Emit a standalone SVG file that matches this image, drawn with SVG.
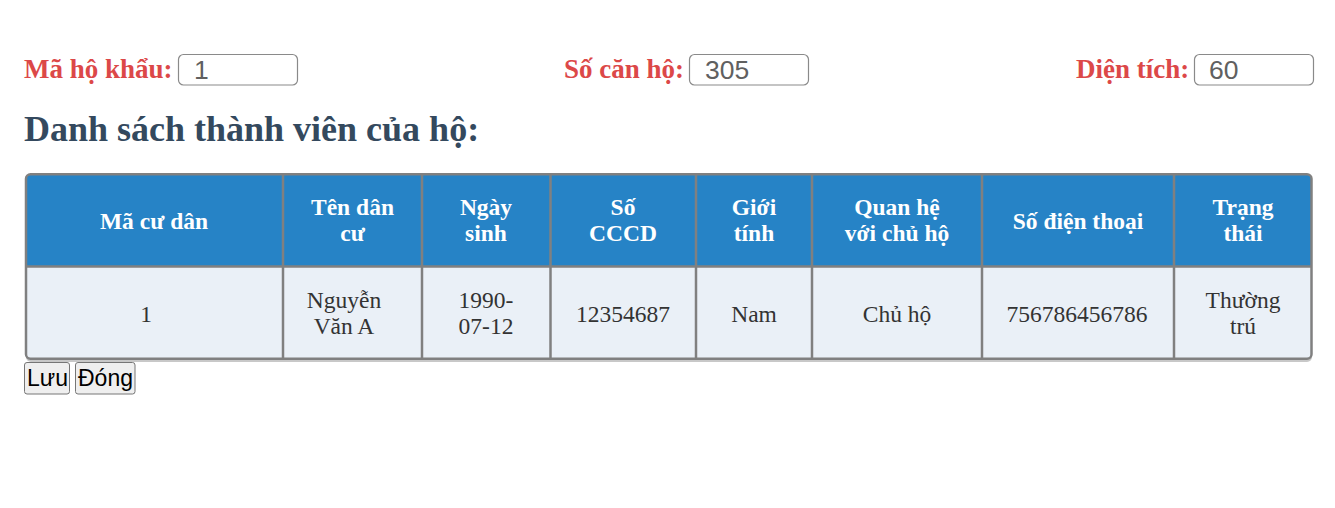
<svg xmlns="http://www.w3.org/2000/svg" width="1335" height="508" viewBox="0 0 1335 508">
<style>
.lbl{font-family:"Liberation Serif","Times New Roman",serif;font-weight:bold;font-size:27px;fill:#dc4848}
.inp{fill:#ffffff;stroke:#8a8a8a;stroke-width:1.2}
.val{font-family:"Liberation Sans",Arial,sans-serif;font-size:26.5px;fill:#606060}
.h2{font-family:"Liberation Serif","Times New Roman",serif;font-weight:bold;font-size:36px;fill:#34495e}
.th{font-family:"Liberation Serif","Times New Roman",serif;font-weight:bold;font-size:23.5px;fill:#ffffff;text-anchor:middle}
.td{font-family:"Liberation Serif","Times New Roman",serif;font-size:23.5px;fill:#333333;text-anchor:middle}
.grid{stroke:#808080;stroke-width:2.5;fill:none}
.btn{fill:#efefef;stroke:#767676;stroke-width:1}
.bt{font-family:"Liberation Sans",Arial,sans-serif;font-size:23px;fill:#000000}
</style>
<g id="form">
  <text class="lbl" x="24" y="78">Mã hộ khẩu:</text>
  <rect class="inp" x="178.5" y="54.5" width="119" height="30.5" rx="5"/>
  <text class="val" x="194" y="79">1</text>
  <text class="lbl" x="564" y="78">Số căn hộ:</text>
  <rect class="inp" x="689.5" y="54.5" width="119" height="30.5" rx="5"/>
  <text class="val" x="705" y="79">305</text>
  <text class="lbl" x="1076" y="78">Diện tích:</text>
  <rect class="inp" x="1194.5" y="54.5" width="119" height="30.5" rx="5"/>
  <text class="val" x="1209" y="79">60</text>
</g>
<g id="heading">
  <text class="h2" x="24" y="141">Danh sách thành viên của hộ:</text>
</g>
<g id="table">
  <rect x="26" y="176" width="1286" height="186" rx="5" fill="#c8c8c8"/>
  <path d="M30.5,174 H1307 A4.5,4.5 0 0 1 1311.5,178.5 V266.5 H26 V178.5 A4.5,4.5 0 0 1 30.5,174 Z" fill="#2683c6"/>
  <path d="M26,266.5 H1311.5 V354 A4.5,4.5 0 0 1 1307,358.5 H30.5 A4.5,4.5 0 0 1 26,354 Z" fill="#eaf0f7"/>
  <rect class="grid" x="26" y="174.2" width="1285.5" height="184.5" rx="4.5"/>
  <g class="grid">
    <line x1="26" y1="266.5" x2="1311.5" y2="266.5"/>
    <line x1="283" y1="174" x2="283" y2="359"/>
    <line x1="422" y1="174" x2="422" y2="359"/>
    <line x1="550.5" y1="174" x2="550.5" y2="359"/>
    <line x1="696" y1="174" x2="696" y2="359"/>
    <line x1="812" y1="174" x2="812" y2="359"/>
    <line x1="982" y1="174" x2="982" y2="359"/>
    <line x1="1174" y1="174" x2="1174" y2="359"/>
  </g>
  <g id="header">
    <text class="th" x="154" y="229">Mã cư dân</text>
    <text class="th" x="352.5" y="215">Tên dân</text>
    <text class="th" x="352.5" y="241">cư</text>
    <text class="th" x="486" y="215">Ngày</text>
    <text class="th" x="486" y="241">sinh</text>
    <text class="th" x="623" y="215">Số</text>
    <text class="th" x="623" y="241">CCCD</text>
    <text class="th" x="754" y="215">Giới</text>
    <text class="th" x="754" y="241">tính</text>
    <text class="th" x="897" y="215">Quan hệ</text>
    <text class="th" x="897" y="241">với chủ hộ</text>
    <text class="th" x="1078" y="229">Số điện thoại</text>
    <text class="th" x="1243" y="215">Trạng</text>
    <text class="th" x="1243" y="241">thái</text>
  </g>
  <g id="row1">
    <text class="td" x="146" y="322">1</text>
    <text class="td" x="344" y="308">Nguyễn</text>
    <text class="td" x="344" y="334">Văn A</text>
    <text class="td" x="486" y="308">1990-</text>
    <text class="td" x="486" y="334">07-12</text>
    <text class="td" x="623" y="322">12354687</text>
    <text class="td" x="754" y="322">Nam</text>
    <text class="td" x="897" y="322">Chủ hộ</text>
    <text class="td" x="1077" y="322">756786456786</text>
    <text class="td" x="1243" y="308">Thường</text>
    <text class="td" x="1243" y="334">trú</text>
  </g>
</g>
<g id="btn-luu">
  <rect class="btn" x="24.5" y="362.5" width="45" height="31.5" rx="2.5"/>
  <text class="bt" x="27" y="386">Lưu</text>
</g>
<g id="btn-dong">
  <rect class="btn" x="75.5" y="362.5" width="59.5" height="31.5" rx="2.5"/>
  <text class="bt" x="78" y="386">Đóng</text>
</g>
</svg>
